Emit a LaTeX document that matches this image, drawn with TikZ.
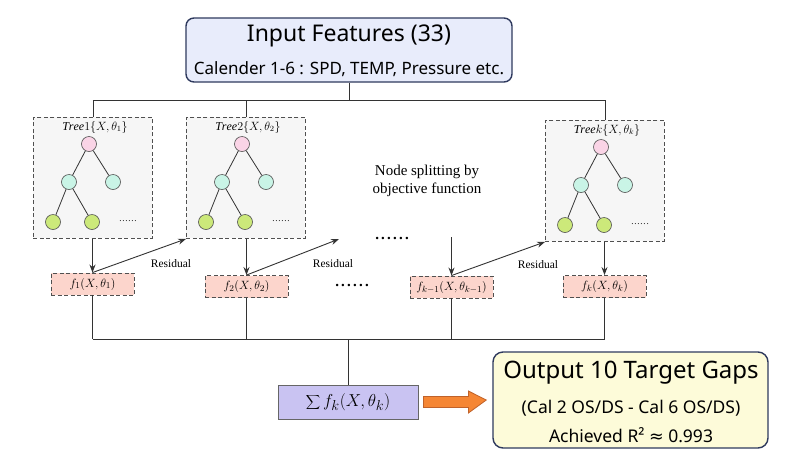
\documentclass[tikz,border=0pt]{standalone}
\usepackage{fontspec}
\setmainfont{Liberation Serif}
\newfontfamily\uifont{Noto Sans}
\newfontfamily\symfont{DejaVu Sans}
\usetikzlibrary{arrows.meta,calc}
\definecolor{inFill}{HTML}{E8ECFB}
\definecolor{navy}{HTML}{2F3A5E}
\definecolor{treeFill}{HTML}{F6F6F6}
\definecolor{dgrey}{HTML}{505050}
\definecolor{rootFill}{HTML}{FAD4E6}
\definecolor{midFill}{HTML}{C9F4E6}
\definecolor{leafFill}{HTML}{CCE97A}
\definecolor{fFill}{HTML}{FCD5CC}
\definecolor{sumFill}{HTML}{C9C3F2}
\definecolor{orFill}{HTML}{F58634}
\definecolor{orLine}{HTML}{C0622A}
\definecolor{outFill}{HTML}{FDFBD9}
\newcommand\bigdots{.\hspace{2.2pt}.\hspace{2.2pt}.\hspace{2.2pt}.\hspace{2.2pt}.\hspace{2.2pt}.}
\newcommand\smalldots{.\hspace{0.8pt}.\hspace{0.8pt}.\hspace{0.8pt}.\hspace{0.8pt}.\hspace{0.8pt}.}
\tikzset{
  inbox/.style={draw=navy, line width=1.4pt, fill=inFill, rounded corners=8pt, minimum width=326pt, minimum height=64pt, inner sep=0pt},
  outbox/.style={draw=navy, line width=1.4pt, fill=outFill, rounded corners=10pt, minimum width=275pt, minimum height=96pt, inner sep=0pt},
  treebox/.style={draw=dgrey, line width=0.9pt, dash pattern=on 4pt off 2.5pt, fill=treeFill, minimum width=119pt, minimum height=121pt, inner sep=0pt},
  treetitle/.style={font=\fontsize{12}{14}\selectfont, inner sep=0pt},
  tnode/.style={circle, draw=dgrey, line width=0.6pt, minimum size=15pt, inner sep=0pt},
  rootc/.style={tnode, fill=rootFill},
  midc/.style={tnode, fill=midFill},
  leafc/.style={tnode, fill=leafFill},
  tedge/.style={draw=black!80, line width=0.8pt},
  fbox/.style={draw=dgrey, line width=0.9pt, dash pattern=on 4pt off 2.5pt, fill=fFill, minimum width=83pt, minimum height=22pt, inner sep=0pt, font=\fontsize{13}{15}\selectfont},
  sumbox/.style={draw=black!60, line width=0.8pt, fill=sumFill, minimum width=140pt, minimum height=34pt, inner sep=0pt, font=\fontsize{19}{21}\selectfont},
  wire/.style={draw=black!80, line width=0.9pt},
  arr/.style={wire, -{Stealth[length=8pt,width=6pt]}},
  lbl/.style={font=\fontsize{11.5}{13}\selectfont, inner sep=0pt},
  uitext/.style={font=\uifont, inner sep=0pt},
  dotsty/.style={font=\fontsize{15}{16}\selectfont\bfseries, inner sep=0pt}
}
\newcommand\mytree[4]{%
  \node[treebox, anchor=north west] (#1) at (#2,#3) {};
  \node[treetitle] (#1t) at ($(#1.north west)+(62,10)$) {#4};
  \node[rootc] (#1r) at ($(#1.north west)+(56,27)$) {};
  \node[midc] (#1a) at ($(#1.north west)+(36,65)$) {};
  \node[midc] (#1b) at ($(#1.north west)+(80,65)$) {};
  \node[leafc] (#1c) at ($(#1.north west)+(20,105)$) {};
  \node[leafc] (#1d) at ($(#1.north west)+(59,105)$) {};
  \node[inner sep=0pt, font=\fontsize{9}{10}\selectfont] (#1e) at ($(#1.north west)+(95,104)$) {\smalldots};
  \draw[tedge] (#1r) -- (#1a);
  \draw[tedge] (#1r) -- (#1b);
  \draw[tedge] (#1a) -- (#1c);
  \draw[tedge] (#1a) -- (#1d);
}
\begin{document}
\begin{tikzpicture}[x=1pt,y=-1pt]
\useasboundingbox[fill=white] (0,0) rectangle (800,464);
% input
\node[inbox] (in) at (349,50) {};
\node[uitext, font=\uifont\fontsize{23}{26}\selectfont] (inT) at (349,36) {Input Features (33)};
\node[uitext, font=\uifont\fontsize{17}{19}\selectfont] (inS) at (349,69) {Calender 1-6 : SPD, TEMP, Pressure etc.};
% trees
\mytree{ta}{33}{117}{$\mathit{Tree}1\{X,\theta_1\}$}
\mytree{tb}{186}{117}{$\mathit{Tree}2\{X,\theta_2\}$}
\mytree{tk}{545}{120}{$\mathit{Tree}k\{X,\theta_k\}$}
% top bus
\coordinate (bus) at (349,100);
\draw[wire] (in.south) -- (bus);
\draw[wire] (ta.north |- bus) -- (tk.north |- bus);
\draw[wire] (ta.north |- bus) -- (ta.north);
\draw[wire] (tb.north |- bus) -- (tb.north);
\draw[wire] (tk.north |- bus) -- (tk.north);
% text middle
\node[font=\fontsize{15}{18}\selectfont, align=center, inner sep=0pt] (split) at (427,181) {Node splitting by\\objective function};
\node[dotsty] (dotsA) at (392,238) {\bigdots};
\node[dotsty] (dotsB) at (352,285) {\bigdots};
% f boxes
\node[fbox] (f1) at (92.5,284) {$f_1(X,\theta_1)$};
\node[fbox] (f2) at (246.5,286.5) {$f_2(X,\theta_2)$};
\node[fbox] (fk1) at (451.5,287) {$f_{k-1}(X,\theta_{k-1})$};
\node[fbox] (fk) at (604.5,286.5) {$f_k(X,\theta_k)$};
% vertical arrows
\draw[arr] (ta.south -| f1.north) -- (f1.north);
\draw[arr] (tb.south -| f2.north) -- (f2.north);
\coordinate (k1top) at (451.5,237);
\draw[arr] (k1top) -- (fk1.north);
\draw[arr] (tk.south -| fk.north) -- (fk.north);
% residuals
\coordinate (r2end) at (339,239);
\draw[arr] (f1.north) -- (tb.south west);
\draw[arr] (f2.north) -- (r2end);
\draw[arr] (fk1.north) -- (tk.south west);
\node[lbl] (res1) at (171,264) {Residual};
\node[lbl] (res2) at (333,264) {Residual};
\node[lbl] (res3) at (538,265) {Residual};
% bottom bus
\coordinate (bus2) at (348,339);
\draw[wire] (f1.south) -- (f1.south |- bus2);
\draw[wire] (f2.south) -- (f2.south |- bus2);
\draw[wire] (fk1.south) -- (fk1.south |- bus2);
\draw[wire] (fk.south) -- (fk.south |- bus2);
\draw[wire] (f1.south |- bus2) -- (fk.south |- bus2);
\node[sumbox] (sum) at (348,402) {$\displaystyle\sum f_k(X,\theta_k)$};
\draw[wire] (bus2) -- (sum.north);
% output
\node[outbox] (out) at (630.5,400) {};
\node[uitext, font=\uifont\fontsize{24}{27}\selectfont] (outT) at (631,373) {Output 10 Target Gaps};
\node[uitext, font=\uifont\fontsize{17.5}{20}\selectfont] (outA) at (631,408) {(Cal 2 OS/DS - Cal 6 OS/DS)};
\node[uitext, font=\uifont\fontsize{17.5}{20}\selectfont] (outB) at (631,435) {Achieved R² {\symfont ≈} 0.993};
% orange block arrow
\fill[orFill, draw=orLine, line width=0.8pt]
  ($(sum.east)+(5,-5.5)$) -- ($(sum.east)+(50,-5.5)$) -- ($(sum.east)+(50,-11)$)
  -- ($(out.west)+(-6,0)$) -- ($(sum.east)+(50,11)$) -- ($(sum.east)+(50,5.5)$)
  -- ($(sum.east)+(5,5.5)$) -- cycle;
\end{tikzpicture}
\end{document}
